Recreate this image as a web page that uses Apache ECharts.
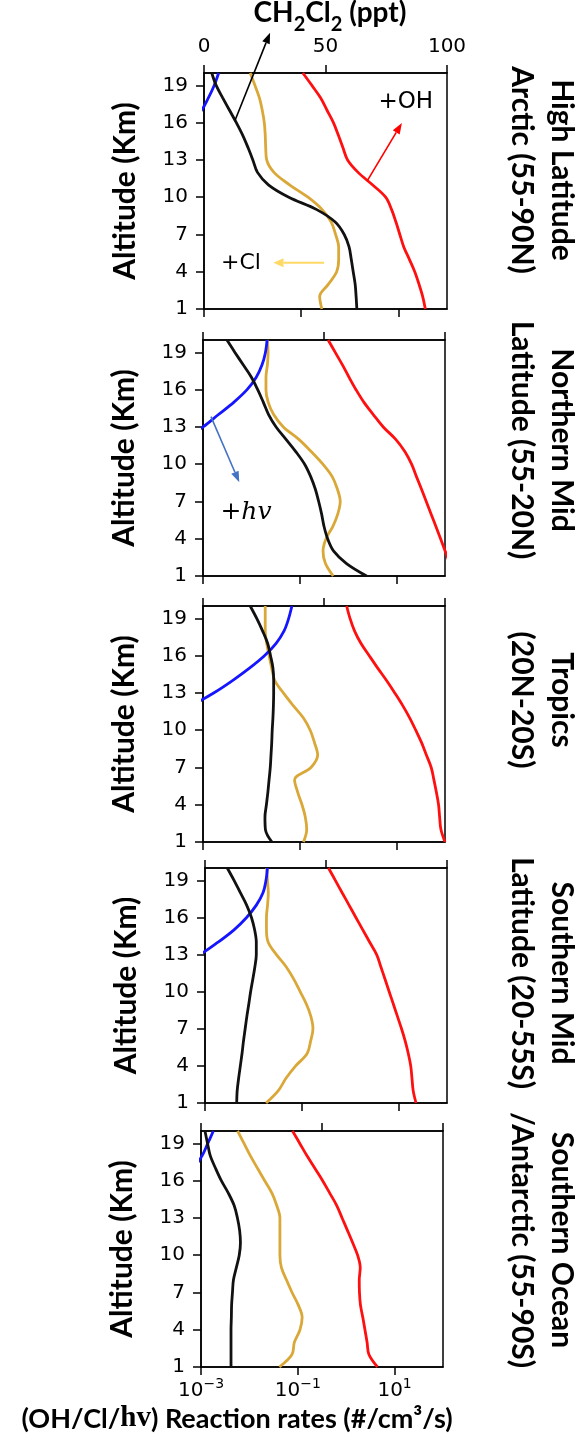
<!DOCTYPE html>
<html>
<head>
<meta charset="utf-8">
<script src="https://cdn.jsdelivr.net/npm/echarts@6/dist/echarts.min.js"></script>
<style>
  html, body { margin: 0; padding: 0; background: #fff; }
  #chart { width: 585px; height: 1440px; }
</style>
</head>
<body>
<div id="chart"></div>
<script>
// Altitude levels (km) shared by every profile
const altitudeKm = [1, 2, 3, 4, 5, 6, 7, 8, 9, 10, 11, 12, 13, 14, 15, 16, 17, 18, 19, 20];

// Axis tick values
const altitudeTicks = [1, 4, 7, 10, 13, 16, 19];
const ch2cl2Ticks = [0, 50, 100];
const rateTicks = [0.001, 0.1, 10];

// Region names, two lines each
const regionLines = [
  ['High Latitude', 'Arctic (55-90N)'],
  ['Northern Mid', 'Latitude (55-20N)'],
  ['Tropics', '(20N-20S)'],
  ['Southern Mid', 'Latitude (20-55S)'],
  ['Southern Ocean', '/Antarctic (55-90S)']
];

// CH2Cl2 mixing ratio (ppt) by altitude
const arcticCH2Cl2    = [62.9, 62.6, 62.2, 61.4, 60.6, 59.7, 57.7, 54.0, 46.4, 34.9, 26.5, 22.0, 20.1, 18.1, 15.9, 13.3, 10.5, 7.7, 5.0, 3.2];
const northMidCH2Cl2  = [67.6, 59.3, 54.0, 51.5, 50.0, 49.0, 47.8, 46.4, 44.5, 42.0, 38.4, 34.3, 30.2, 27.1, 24.9, 22.6, 20.0, 16.6, 13.2, 9.9];
const tropicsCH2Cl2   = [28.5, 25.8, 25.6, 26.2, 26.8, 27.3, 27.8, 28.1, 28.4, 28.6, 28.9, 29.1, 29.2, 29.2, 28.9, 27.9, 26.7, 24.6, 22.2, 19.5];
const southMidCH2Cl2  = [13.1, 13.3, 13.9, 14.6, 15.3, 15.9, 16.6, 17.3, 18.1, 18.85, 19.75, 20.6, 21.2, 21.2, 20.5, 19.2, 17.2, 14.6, 12.0, 9.2];
const antarcticCH2Cl2 = [12.4, 12.4, 12.4, 12.4, 12.55, 12.65, 13.0, 13.4, 14.6, 15.8, 16.3, 15.96, 15.05, 13.7, 11.3, 8.4, 6.0, 3.85, 2.7, 1.65];

// Loss rate by OH (#/cm3/s)
const arcticOH    = [35.8, 31.6, 26.5, 21.7, 16.8, 12.9, 10.7, 8.9, 7.25, 5.46, 2.92, 1.48, 0.9, 0.72, 0.58, 0.46, 0.34, 0.25, 0.166, 0.108];
const northMidOH  = [160, 126, 101, 81, 64.6, 51.5, 41, 32.6, 25.7, 20.4, 14.9, 9.6, 5.3, 3.3, 2.1, 1.45, 1.04, 0.76, 0.54, 0.385];
const tropicsOH   = [100, 82.4, 77.5, 73.6, 66.4, 59, 51.9, 41.2, 32.8, 24.9, 18.6, 13.3, 9.16, 6.2, 4.07, 2.72, 1.83, 1.35, 1.09, 0.93];
const southMidOH  = [22.9, 20, 18.9, 17.8, 15.85, 13.7, 11.5, 9.46, 7.78, 6.39, 5.25, 4.31, 3.52, 2.53, 1.82, 1.31, 0.946, 0.682, 0.493, 0.356];
const antarcticOH = [4.42, 2.95, 2.7, 2.44, 2.2, 1.97, 1.88, 1.86, 1.95, 1.72, 1.36, 1.06, 0.822, 0.638, 0.457, 0.326, 0.225, 0.155, 0.11, 0.0778];

// Loss rate by Cl (#/cm3/s)
const arcticCl    = [0.266, 0.24, 0.363, 0.537, 0.59, 0.59, 0.51, 0.415, 0.27, 0.138, 0.0575, 0.0275, 0.0195, 0.0186, 0.0182, 0.0174, 0.0158, 0.0138, 0.0112, 0.0089];
const northMidCl  = [0.49, 0.339, 0.302, 0.348, 0.483, 0.61, 0.684, 0.597, 0.467, 0.30, 0.174, 0.0955, 0.0457, 0.0288, 0.0222, 0.02, 0.02, 0.0214, 0.0221, 0.0211];
const tropicsCl   = [0.119, 0.139, 0.130, 0.111, 0.0906, 0.078, 0.17, 0.234, 0.201, 0.164, 0.118, 0.0725, 0.0457, 0.0304, 0.0263, 0.0232, 0.0207, 0.0193, 0.0193, 0.0193];
const southMidCl  = [0.0183, 0.0327, 0.0471, 0.0748, 0.129, 0.152, 0.170, 0.154, 0.124, 0.0925, 0.0687, 0.0478, 0.0299, 0.0202, 0.0186, 0.0186, 0.0196, 0.0203, 0.0195, 0.0189];
const antarcticCl = [0.0417, 0.0758, 0.0851, 0.111, 0.123, 0.102, 0.076, 0.0585, 0.0459, 0.0427, 0.0427, 0.0427, 0.0427, 0.0367, 0.0292, 0.0207, 0.0147, 0.0105, 0.00774, 0.00571];

// Photolysis rate (hv), only defined in the upper levels
const arcticHv    = [null, null, null, null, null, null, null, null, null, null, null, null, null, null, 0.0002, 0.0005, 0.00089, 0.00123, 0.00162, 0.002];
const northMidHv  = [null, null, null, null, null, null, null, null, null, null, 0.000126, 0.0004, 0.001, 0.00209, 0.00437, 0.00813, 0.0126, 0.0166, 0.0195, 0.0211];
const tropicsHv   = [null, null, null, null, null, null, null, null, null, null, 0.000158, 0.000575, 0.00166, 0.00407, 0.00912, 0.0186, 0.0324, 0.0473, 0.0589, 0.0686];
const southMidHv  = [null, null, null, null, null, null, null, null, null, null, null, 0.00025, 0.00079, 0.00186, 0.00398, 0.00724, 0.0115, 0.0158, 0.0182, 0.0195];
const antarcticHv = [null, null, null, null, null, null, null, null, null, null, null, null, null, null, 0.00016, 0.0004, 0.0007, 0.00105, 0.00138, 0.0018];

const regionProfiles = [
  { ch2cl2: arcticCH2Cl2,    oh: arcticOH,    cl: arcticCl,    hv: arcticHv },
  { ch2cl2: northMidCH2Cl2,  oh: northMidOH,  cl: northMidCl,  hv: northMidHv },
  { ch2cl2: tropicsCH2Cl2,   oh: tropicsOH,   cl: tropicsCl,   hv: tropicsHv },
  { ch2cl2: southMidCH2Cl2,  oh: southMidOH,  cl: southMidCl,  hv: southMidHv },
  { ch2cl2: antarcticCH2Cl2, oh: antarcticOH, cl: antarcticCl, hv: antarcticHv }
];

// Panel boxes: left, top, width, height
const panelBoxes = [
  [204, 73, 243, 236],
  [203, 340, 242, 236],
  [203, 606, 242, 236],
  [205, 868, 242, 235],
  [201, 1131, 242, 236]
];
const regionLabelCenterY = [170, 440, 700, 973, 1240];

const COLORS = { ch2cl2: '#111111', oh: '#ff1010', cl: '#daa838', hv: '#1515ff' };
const TICK_FONT = 'DejaVu Sans';
const TITLE_FONT = 'Lato';

const chart = echarts.init(document.getElementById('chart'), null, { renderer: 'canvas' });

const expText = v => {
  const e = Math.round(Math.log10(v));
  return '{b|10}{s|' + (e < 0 ? '\u2212' : '') + Math.abs(e) + '}';
};

const axisLine = { show: true, onZero: false, lineStyle: { color: '#000', width: 1.5 } };
const tickStyle = (vals) => ({ show: true, inside: false, length: 8, lineStyle: { color: '#000', width: 1.5 }, customValues: vals });

const grids = [], xAxes = [], yAxes = [], series = [];
panelBoxes.forEach((b, i) => {
  grids.push({ left: b[0], top: b[1], width: b[2], height: b[3], show: true,
    borderColor: '#000', borderWidth: 1.5, backgroundColor: 'transparent', containLabel: false });
  // bottom: reaction rates (log)
  xAxes.push({
    type: 'log', logBase: 10, gridIndex: i, position: 'bottom', min: 0.001, max: 100,
    axisLine, axisTick: tickStyle(rateTicks), minorTick: { show: false },
    splitLine: { show: false },
    axisLabel: {
      show: i === panelBoxes.length - 1, customValues: rateTicks, margin: 10,
      formatter: expText,
      rich: {
        b: { fontFamily: TICK_FONT, fontSize: 20, color: '#000', lineHeight: 24, verticalAlign: 'bottom' },
        s: { fontFamily: TICK_FONT, fontSize: 14, color: '#000', lineHeight: 16, verticalAlign: 'top' }
      }
    }
  });
  // top: CH2Cl2 (linear)
  xAxes.push({
    type: 'value', gridIndex: i, position: 'top', min: 0, max: 100,
    axisLine, axisTick: tickStyle(ch2cl2Ticks), splitLine: { show: false },
    axisLabel: { show: i === 0, customValues: ch2cl2Ticks, margin: 16,
      fontFamily: TICK_FONT, fontSize: 20, color: '#000' }
  });
  yAxes.push({
    type: 'value', gridIndex: i, min: 1, max: 20,
    axisLine, axisTick: tickStyle(altitudeTicks), splitLine: { show: false },
    axisLabel: { customValues: altitudeTicks, margin: 16, fontFamily: TICK_FONT, fontSize: 20, color: '#000' },
    name: 'Altitude (Km)', nameLocation: 'middle', nameGap: 64,
    nameTextStyle: { fontFamily: TITLE_FONT, fontWeight: 'bold', fontSize: 30, color: '#000' }
  });

  const p = regionProfiles[i];
  const pts = arr => altitudeKm.map((a, k) => [arr[k], a]).filter(d => d[0] != null);
  const line = (name, arr, xi, color) => ({
    type: 'line', name, xAxisIndex: xi, yAxisIndex: i, data: pts(arr),
    showSymbol: false, symbol: 'none', smooth: 0.35, clip: true, silent: true,
    lineStyle: { color, width: 2.8 }, animation: false
  });
  series.push(line('OH', p.oh, 2 * i, COLORS.oh));
  series.push(line('Cl', p.cl, 2 * i, COLORS.cl));
  series.push(line('hv', p.hv, 2 * i, COLORS.hv));
  series.push(line('CH2Cl2', p.ch2cl2, 2 * i + 1, COLORS.ch2cl2));
});

chart.setOption({
  animation: false,
  backgroundColor: '#fff',
  grid: grids, xAxis: xAxes, yAxis: yAxes, series
});

// Annotations placed in data coordinates of the panels
function px(panel, useLinear, x, y) {
  return chart.convertToPixel({ xAxisIndex: 2 * panel + (useLinear ? 1 : 0), yAxisIndex: panel }, [x, y]);
}
function arrow(p0, p1, color, width, headLen, headW) {
  const dx = p1[0] - p0[0], dy = p1[1] - p0[1];
  const L = Math.hypot(dx, dy), ux = dx / L, uy = dy / L;
  const base = [p1[0] - ux * headLen, p1[1] - uy * headLen];
  const left = [base[0] - uy * headW / 2, base[1] + ux * headW / 2];
  const right = [base[0] + uy * headW / 2, base[1] - ux * headW / 2];
  return [
    { type: 'line', z: 20, shape: { x1: p0[0], y1: p0[1], x2: base[0], y2: base[1] },
      style: { stroke: color, lineWidth: width } },
    { type: 'polygon', z: 20, shape: { points: [p1, left, right] }, style: { fill: color } }
  ];
}

const graphics = [];
// CH2Cl2 arrow toward the top title
graphics.push(...arrow(px(0, true, 12.8, 16.2), px(0, true, 27.2, 23.25), '#000', 1.6, 11, 8));
// +OH arrow
graphics.push(...arrow(px(0, false, 2.25, 11.27), px(0, false, 11.8, 15.98), '#ff0000', 1.6, 11, 8));
// +Cl arrow
graphics.push(...arrow(px(0, false, 0.296, 4.73), px(0, false, 0.0268, 4.73), '#ffd966', 2, 10, 9));
// +hv arrow
graphics.push(...arrow(px(1, false, 0.00146, 13.83), px(1, false, 0.00562, 8.54), '#4472c4', 1.6, 11, 8));

const ohPos = px(0, false, 14.2, 17.69);
const clPos = px(0, false, 0.00578, 4.65);
const hvPos = px(1, false, 0.00773, 6.15);
graphics.push({ type: 'text', z: 20, x: ohPos[0], y: ohPos[1],
  style: { text: '+OH', fontFamily: TICK_FONT, fontSize: 23, fill: '#000', align: 'center', verticalAlign: 'middle' } });
graphics.push({ type: 'text', z: 20, x: clPos[0], y: clPos[1],
  style: { text: '+Cl', fontFamily: TICK_FONT, fontSize: 22, fill: '#000', align: 'center', verticalAlign: 'middle' } });
graphics.push({ type: 'text', z: 20, x: hvPos[0], y: hvPos[1],
  style: { text: '+hv', fontFamily: 'DejaVu Serif', fontStyle: 'italic', fontSize: 25, fill: '#000', align: 'center', verticalAlign: 'middle' } });

// Top title: CH2Cl2 (ppt)
graphics.push({ type: 'text', x: 330, y: 14,
  style: {
    text: '{t|CH}{s|2}{t|Cl}{s|2}{t| (ppt)}', align: 'center', verticalAlign: 'middle',
    rich: {
      t: { fontFamily: TITLE_FONT, fontWeight: 'bold', fontSize: 28, lineHeight: 30, verticalAlign: 'top', fill: '#000' },
      s: { fontFamily: TITLE_FONT, fontWeight: 'bold', fontSize: 20, lineHeight: 20, padding: [16, 0, 0, 0], verticalAlign: 'top', fill: '#000' }
    }
  } });

// Bottom title
graphics.push({ type: 'text', x: 237, y: 1419,
  style: {
    text: '{t|(OH/Cl/}{m|hv}{t|) Reaction rates (#/cm\u00b3/s)}', align: 'center', verticalAlign: 'middle',
    rich: {
      t: { fontFamily: TITLE_FONT, fontWeight: 'bold', fontSize: 27, fill: '#000' },
      m: { fontFamily: 'Liberation Serif', fontWeight: 'bold', fontSize: 29, fill: '#000' }
    }
  } });

// Region labels on the right, reading top to bottom
regionLines.forEach((lines, i) => {
  graphics.push({ type: 'text', x: 542, y: regionLabelCenterY[i], rotation: -Math.PI / 2,
    style: { text: lines.join('\n'), fontFamily: TITLE_FONT, fontWeight: 'bold', fontSize: 30,
      lineHeight: 40, fill: '#000', align: 'center', verticalAlign: 'middle' } });
});

chart.setOption({ graphic: graphics });
</script>
</body>
</html>
